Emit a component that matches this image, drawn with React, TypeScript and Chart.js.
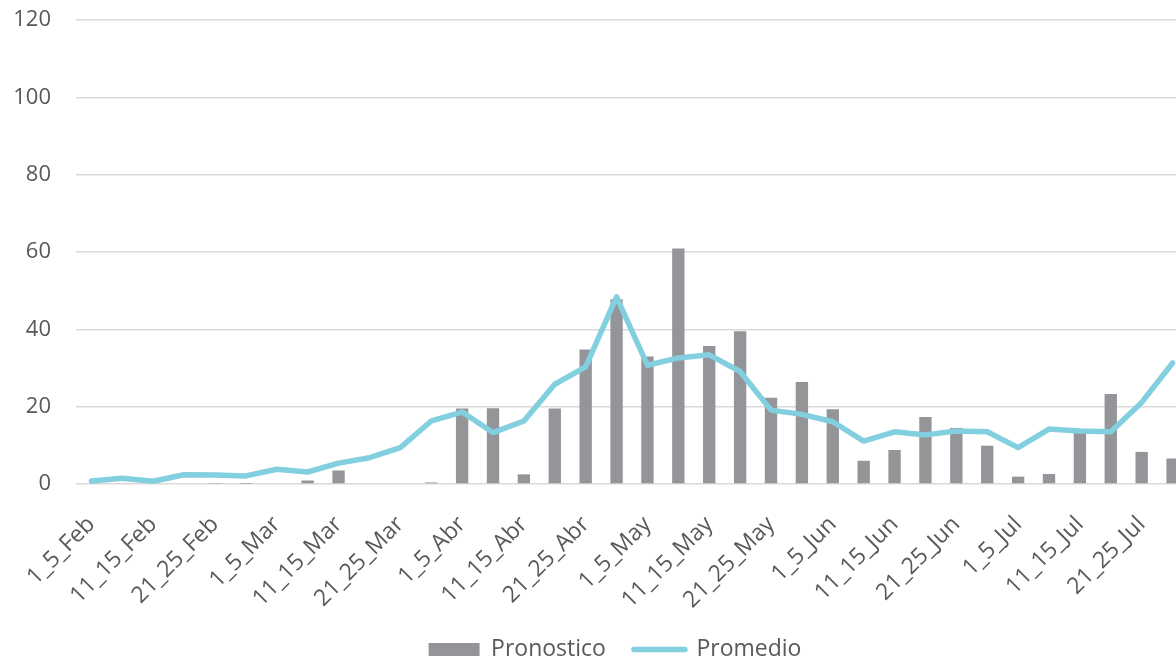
import React, { useEffect, useRef } from "react";
import { Chart, registerables } from "chart.js";

Chart.register(...registerables);

const categories = [
  "1_5_Feb", "6_10_Feb", "11_15_Feb", "16_20_Feb", "21_25_Feb", "26_28_Feb",
  "1_5_Mar", "6_10_Mar", "11_15_Mar", "16_20_Mar", "21_25_Mar", "26_31_Mar",
  "1_5_Abr", "6_10_Abr", "11_15_Abr", "16_20_Abr", "21_25_Abr", "26_30_Abr",
  "1_5_May", "6_10_May", "11_15_May", "16_20_May", "21_25_May", "26_31_May",
  "1_5_Jun", "6_10_Jun", "11_15_Jun", "16_20_Jun", "21_25_Jun", "26_30_Jun",
  "1_5_Jul", "6_10_Jul", "11_15_Jul", "16_20_Jul", "21_25_Jul", "26_31_Jul",
];

const pronostico = [
  0, 0, 0, 0, 0.1, 0.05,
  0, 0.9, 3.5, 0.2, 0, 0.4,
  19.5, 19.6, 2.5, 19.5, 34.8, 47.8,
  33.0, 60.9, 35.7, 39.5, 22.3, 26.4,
  19.3, 6.0, 8.8, 17.3, 14.5, 9.9,
  1.9, 2.6, 14.0, 23.3, 8.3, 6.6,
];

const promedio = [
  0.8, 1.5, 0.7, 2.4, 2.3, 2.1,
  3.8, 3.1, 5.4, 6.8, 9.4, 16.3,
  18.6, 13.3, 16.3, 25.8, 30.3, 48.4,
  30.7, 32.6, 33.4, 29.1, 19.1, 18.0,
  16.1, 11.1, 13.5, 12.7, 13.7, 13.5,
  9.4, 14.2, 13.7, 13.5, 21.1, 31.3,
];

const yMin = 0;
const yMax = 120;
const yStep = 20;

const GRAY = "#939598";
const CYAN = "#82cfe0";
const TEXT = "#595959";
const FONT = "'Open Sans', 'Noto Sans', sans-serif";

const legendShift = {
  id: "legendShift",
  afterLayout(chart: any) {
    const lg = chart.legend;
    if (!lg) return;
    lg.top -= 4;
    lg.bottom -= 4;
    lg.left += 21;
    lg.right += 21;
  },
};

export default function App() {
  const ref = useRef<HTMLCanvasElement>(null);

  useEffect(() => {
    const chart = new Chart(ref.current!, {
      data: {
        labels: categories,
        datasets: [
          {
            type: "bar",
            label: "Pronostico",
            data: pronostico,
            backgroundColor: GRAY,
            borderWidth: 0,
            categoryPercentage: 1,
            barPercentage: 0.4,
            order: 2,
          },
          {
            type: "line",
            label: "Promedio",
            data: promedio,
            borderColor: CYAN,
            backgroundColor: CYAN,
            borderWidth: 5.5,
            pointRadius: 0,
            tension: 0,
            borderCapStyle: "round",
            borderJoinStyle: "round",
            order: 1,
          },
        ],
      },
      options: {
        responsive: false,
        animation: false,
        layout: { padding: { top: 20, right: 38, left: 0, bottom: 0 } },
        plugins: {
          tooltip: { enabled: false },
          legend: {
            position: "bottom",
            labels: {
              font: { family: FONT, size: 23 },
              color: TEXT,
              usePointStyle: true,
              pointStyleWidth: 51,
              boxHeight: 13,
              padding: 28,
              generateLabels: (c: any) => {
                const items = (Chart.defaults as any).plugins.legend.labels.generateLabels(c);
                items.sort((a: any, b: any) => a.datasetIndex - b.datasetIndex);
                return items.map((it: any) =>
                  it.datasetIndex === 0
                    ? { ...it, pointStyle: "rect", lineWidth: 0, fillStyle: GRAY, strokeStyle: GRAY }
                    : { ...it, pointStyle: "line", lineWidth: 5.5, strokeStyle: CYAN, fillStyle: CYAN, lineCap: "round" }
                );
              },
            },
          },
        },
        scales: {
          x: {
            grid: { display: false },
            border: { display: false },
            ticks: {
              autoSkip: false,
              minRotation: 45,
              maxRotation: 45,
              padding: 19,
              color: TEXT,
              font: { family: FONT, size: 23 },
              callback: (_v: any, i: number) => (i % 2 === 0 ? categories[i] : ""),
            },
            afterFit: (s: any) => {
              s.height = 130;
            },
          },
          y: {
            min: yMin,
            max: yMax,
            grid: { color: "#d9d9d9", lineWidth: 1.5, drawTicks: true, tickLength: 25, tickColor: "rgba(0,0,0,0)" },
            border: { display: false },
            ticks: {
              stepSize: yStep,
              padding: 0,
              color: TEXT,
              font: { family: FONT, size: 22 },
            },
            afterFit: (s: any) => {
              s.width = 76;
            },
          },
        },
      },
      plugins: [legendShift],
    } as any);
    return () => chart.destroy();
  }, []);

  return (
    <div
      style={{
        position: "fixed",
        left: 0,
        top: 0,
        width: 1176,
        height: 659,
        overflow: "hidden",
        background: "#fff",
      }}
    >
      <canvas ref={ref} width={1226} height={675} style={{ display: "block", width: 1226, height: 675 }} />
    </div>
  );
}
